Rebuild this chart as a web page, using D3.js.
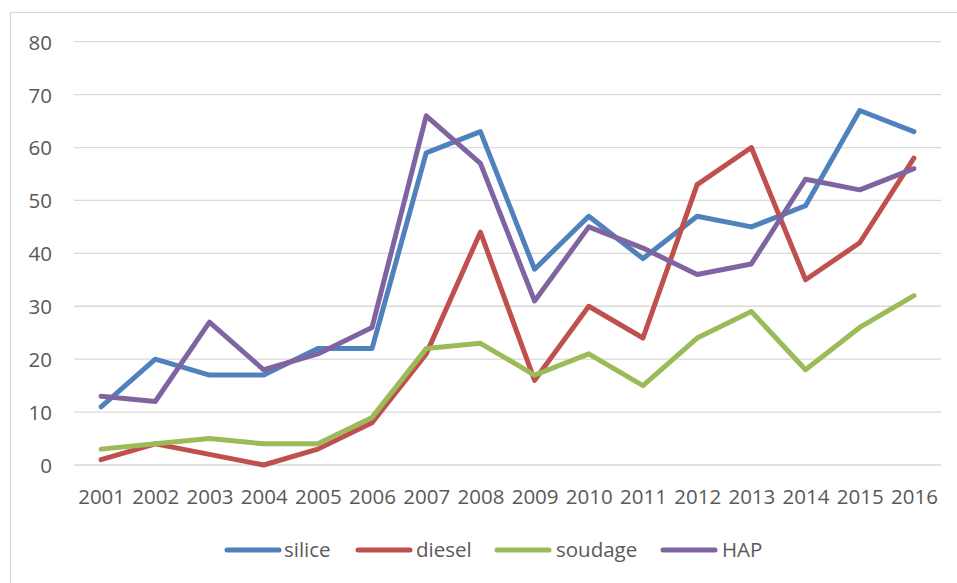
<!DOCTYPE html>
<html>
<head>
<meta charset="utf-8">
<script src="https://cdn.jsdelivr.net/npm/d3@7"></script>
<style>
  html, body { margin: 0; padding: 0; background: #fff; }
  svg { display: block; }
  text { font-family: "Open Sans", "Liberation Sans", sans-serif; fill: #595959; }
</style>
</head>
<body>
<svg id="chart" width="957" height="583"></svg>
<script>
const years = ["2001","2002","2003","2004","2005","2006","2007","2008","2009","2010","2011","2012","2013","2014","2015","2016"];
const silice  = [11, 20, 17, 17, 22, 22, 59, 63, 37, 47, 39, 47, 45, 49, 67, 63];
const diesel  = [1, 4, 2, 0, 3, 8, 21, 44, 16, 30, 24, 53, 60, 35, 42, 58];
const soudage = [3, 4, 5, 4, 4, 9, 22, 23, 17, 21, 15, 24, 29, 18, 26, 32];
const hap     = [13, 12, 27, 18, 21, 26, 66, 57, 31, 45, 41, 36, 38, 54, 52, 56];
const yTicks  = [0, 10, 20, 30, 40, 50, 60, 70, 80];

const series = [
  { name: "silice",  values: silice,  color: "#4F81BD" },
  { name: "diesel",  values: diesel,  color: "#C0504D" },
  { name: "soudage", values: soudage, color: "#9BBB59" },
  { name: "HAP",     values: hap,     color: "#8064A2" }
];

const fontSize = "20.5px";
const svg = d3.select("#chart");

// outer chart frame (extends past the right and bottom edges)
svg.append("rect")
  .attr("x", 10.5).attr("y", 12.5)
  .attr("width", 1000).attr("height", 1000)
  .attr("fill", "none").attr("stroke", "#d9d9d9").attr("stroke-width", 1.2);

const plot = { left: 74, right: 941, top: 41.7, bottom: 465 };

const x = d3.scalePoint().domain(years).range([plot.left, plot.right]).padding(0.5);
const y = d3.scaleLinear().domain([0, 80]).range([plot.bottom, plot.top]);

// horizontal gridlines
svg.append("g")
  .selectAll("line")
  .data(yTicks)
  .join("line")
  .attr("x1", plot.left).attr("x2", plot.right)
  .attr("y1", d => y(d)).attr("y2", d => y(d))
  .attr("stroke", "#d9d9d9").attr("stroke-width", 1.3);

// y axis labels
const yAxis = d3.axisLeft(y).tickValues(yTicks).tickSize(0).tickPadding(0);
const gy = svg.append("g").attr("transform", "translate(52,0)").call(yAxis);
gy.select(".domain").remove();
gy.selectAll("text")
  .attr("font-size", fontSize)
  .style("font-family", '"Open Sans", "Liberation Sans", sans-serif')
  .attr("fill", "#595959")
  .attr("dy", "0.36em");

// x axis labels
const xAxis = d3.axisBottom(x).tickSize(0).tickPadding(0);
const gx = svg.append("g").attr("transform", `translate(0,${plot.bottom})`).call(xAxis);
gx.select(".domain").remove();
gx.selectAll("text")
  .attr("font-size", fontSize)
  .style("font-family", '"Open Sans", "Liberation Sans", sans-serif')
  .attr("fill", "#595959")
  .attr("y", 31.5)
  .attr("dy", "0.36em");

// data lines
const line = d3.line()
  .x((d, i) => x(years[i]))
  .y(d => y(d));

svg.append("g")
  .selectAll("path")
  .data(series)
  .join("path")
  .attr("d", d => line(d.values))
  .attr("fill", "none")
  .attr("stroke", d => d.color)
  .attr("stroke-width", 5)
  .attr("stroke-linejoin", "round")
  .attr("stroke-linecap", "round");

// legend
const legendItems = [
  { lx: 227, tx: 284 },
  { lx: 358, tx: 416 },
  { lx: 497, tx: 556 },
  { lx: 663, tx: 722 }
];
const legendY = 550;
const lg = svg.append("g");
series.forEach((s, i) => {
  const p = legendItems[i];
  lg.append("line")
    .attr("x1", p.lx).attr("x2", p.lx + 52)
    .attr("y1", legendY).attr("y2", legendY)
    .attr("stroke", s.color).attr("stroke-width", 5)
    .attr("stroke-linecap", "round");
  lg.append("text")
    .attr("x", p.tx).attr("y", legendY)
    .attr("dy", "0.36em")
    .attr("font-size", fontSize)
    .text(s.name);
});
</script>
</body>
</html>
